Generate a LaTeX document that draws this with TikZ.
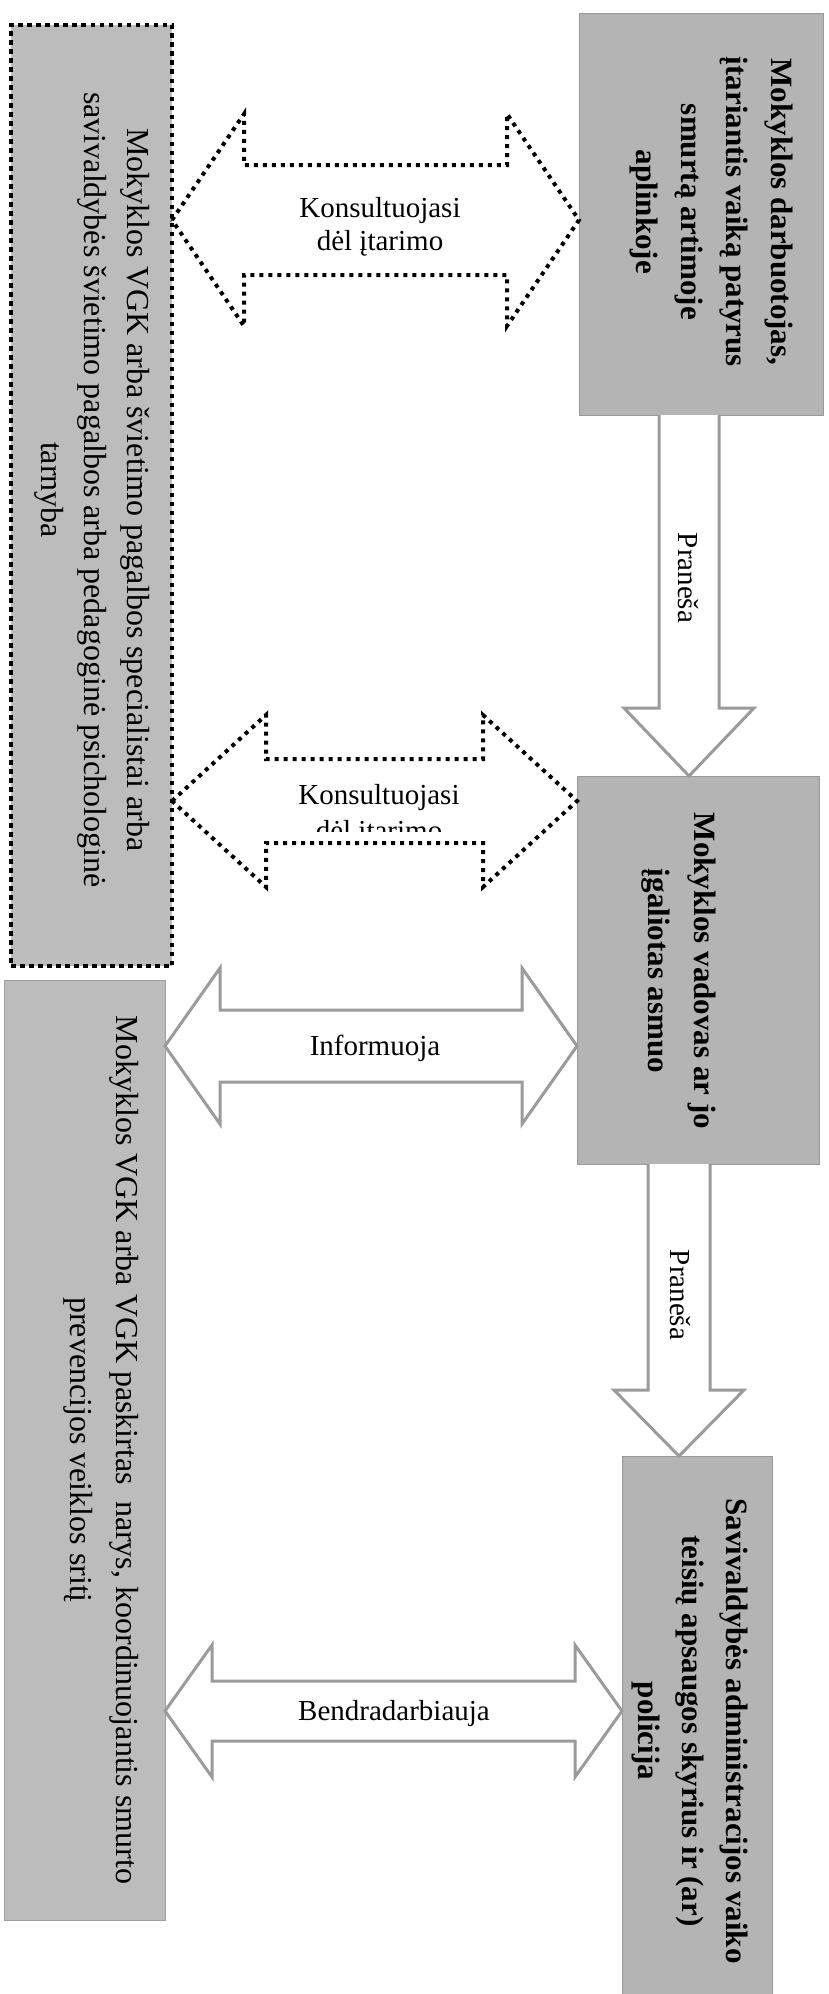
\documentclass[tikz,border=0pt]{standalone}
\usepackage{fontspec}
\setmainfont{Liberation Serif}
\usetikzlibrary{calc}
\definecolor{boxgray}{RGB}{180,180,180}
\definecolor{lboxgray}{RGB}{188,188,188}
\definecolor{arrgray}{RGB}{155,155,155}
% #1 left tip, #2 right tip, #3 head length, #4 head half-height, #5 shaft half-height, #6 style
\newcommand\dblarr[6]{%
\draw[#6] (#1) -- ++(#3,-#4) -- ++(0,#4-#5) -- ($(#2)+(-#3,-#5)$) -- ++(0,#5-#4) -- (#2)
  -- ++(-#3,#4) -- ++(0,#5-#4) -- ($(#1)+(#3,#5)$) -- ++(0,#4-#5) -- cycle;}
% #1 top centre, #2 tip, #3 shaft half-width, #4 head half-width, #5 head length, #6 style
\newcommand\downarr[6]{%
\draw[#6] ($(#1)+(-#3,0)$) -- ($(#2)+(-#3,-#5)$) -- ++(#3-#4,0) -- (#2)
  -- ($(#2)+(#4,-#5)$) -- ++(#3-#4,0) -- ($(#1)+(#3,0)$);}
\begin{document}
\begin{tikzpicture}[x=1pt,y=-1pt,
  boxR/.style={fill=boxgray, draw=boxgray!85!black, line width=0.8pt, inner sep=0pt, outer sep=0pt},
  boxL/.style={fill=lboxgray, draw=lboxgray!85!black, line width=0.8pt, inner sep=0pt, outer sep=0pt},
  dotboxstyle/.style={fill=lboxgray, draw=black, line width=4.5pt, dash pattern=on 4.5pt off 4.5pt, inner sep=0pt, outer sep=0pt},
  rtext/.style={rotate=-90, align=center, inner sep=0pt},
  lab/.style={align=center, inner sep=0pt, font=\fontsize{29}{33}\selectfont},
  dotarr/.style={draw=black, fill=white, line width=4pt, dash pattern=on 4pt off 5pt, line join=miter},
  grayarr/.style={draw=arrgray, fill=white, line width=3pt, line join=miter}]
\useasboundingbox (0,0) rectangle (829,1994);
\fill[white] (0,0) rectangle (829,1994);

% boxes
\node[dotboxstyle, minimum width=161pt, minimum height=941pt] (dotbox) at (91.5,495.5) {};
\node[boxL, minimum width=161pt, minimum height=940pt] (lbox2) at (84.5,1450) {};
\node[boxR, minimum width=244pt, minimum height=402pt] (b1) at (701,214) {};
\node[boxR, minimum width=242pt, minimum height=388pt] (b2) at (698,970) {};
\node[boxR, minimum width=150pt, minimum height=538pt] (b3) at (697,1725) {};

% box texts
\node[rtext, font=\fontsize{32}{43}\selectfont] (dott) at (92,490)
  {Mokyklos VGK arba švietimo pagalbos specialistai arba\\
   savivaldybės švietimo pagalbos arba pedagoginė psichologinė\\
   tarnyba};
\node[rtext, font=\fontsize{32}{46}\selectfont] (lbox2t) at (101,1450)
  {Mokyklos VGK arba VGK paskirtas\ \ narys, koordinuojantis smurto\\
   prevencijos veiklos sritį};
\node[rtext, font=\bfseries\fontsize{31}{45}\selectfont] (b1t) at (711,212)
  {Mokyklos darbuotojas,\\ įtariantis vaiką patyrus\\ smurtą artimoje\\ aplinkoje};
\node[rtext, font=\bfseries\fontsize{31}{46}\selectfont] (b2t) at (679,971)
  {Mokyklos vadovas ar jo\\ įgaliotas asmuo};
\node[rtext, font=\bfseries\fontsize{31}{44}\selectfont] (b3t) at (690,1731)
  {Savivaldybės administracijos vaiko\\ teisių apsaugos skyrius ir (ar)\\ policija};

% down arrows
\coordinate (t1) at ($(b2.north)+(-9,0)$);
\coordinate (s1) at (t1 |- b1.south);
\downarr{s1}{t1}{30}{65}{68}{grayarr}
\coordinate (t2) at ($(b3.north)+(-18,0)$);
\coordinate (s2) at (t2 |- b2.south);
\downarr{s2}{t2}{31}{65}{66}{grayarr}
\node[lab, rotate=-90] (p1) at (688,578) {Praneša};
\node[lab, rotate=-90] (p2) at (680,1295) {Praneša};

% double arrows
\coordinate (d1l) at (dotbox.east |- 0,220);
\coordinate (d1r) at (b1.west |- 0,220);
\dblarr{d1l}{d1r}{72}{106}{55}{dotarr}
\node[lab] (l1) at (380,227) {Konsultuojasi\\dėl įtarimo};

\coordinate (d2l) at (dotbox.east |- 0,801);
\coordinate (d2r) at (b2.west |- 0,801);
\begin{scope}
\clip (250,760) rectangle (520,831);
\node[lab, font=\fontsize{29}{36}\selectfont] (l2) at (379,815) {Konsultuojasi\\dėl įtarimo};
\end{scope}
\dblarr{d2l}{d2r}{94}{86}{42}{dotarr,fill=none}

\coordinate (d3l) at (lbox2.east |- 0,1046);
\coordinate (d3r) at (b2.west |- 0,1046);
\dblarr{d3l}{d3r}{55}{78}{36}{grayarr}
\node[lab] (l3) at (375,1048) {Informuoja};

\coordinate (d4l) at (lbox2.east |- 0,1711);
\coordinate (d4r) at (b3.west |- 0,1711);
\dblarr{d4l}{d4r}{47}{66}{30}{grayarr}
\node[lab] (l4) at (394,1714) {Bendradarbiauja};
\end{tikzpicture}
\end{document}
